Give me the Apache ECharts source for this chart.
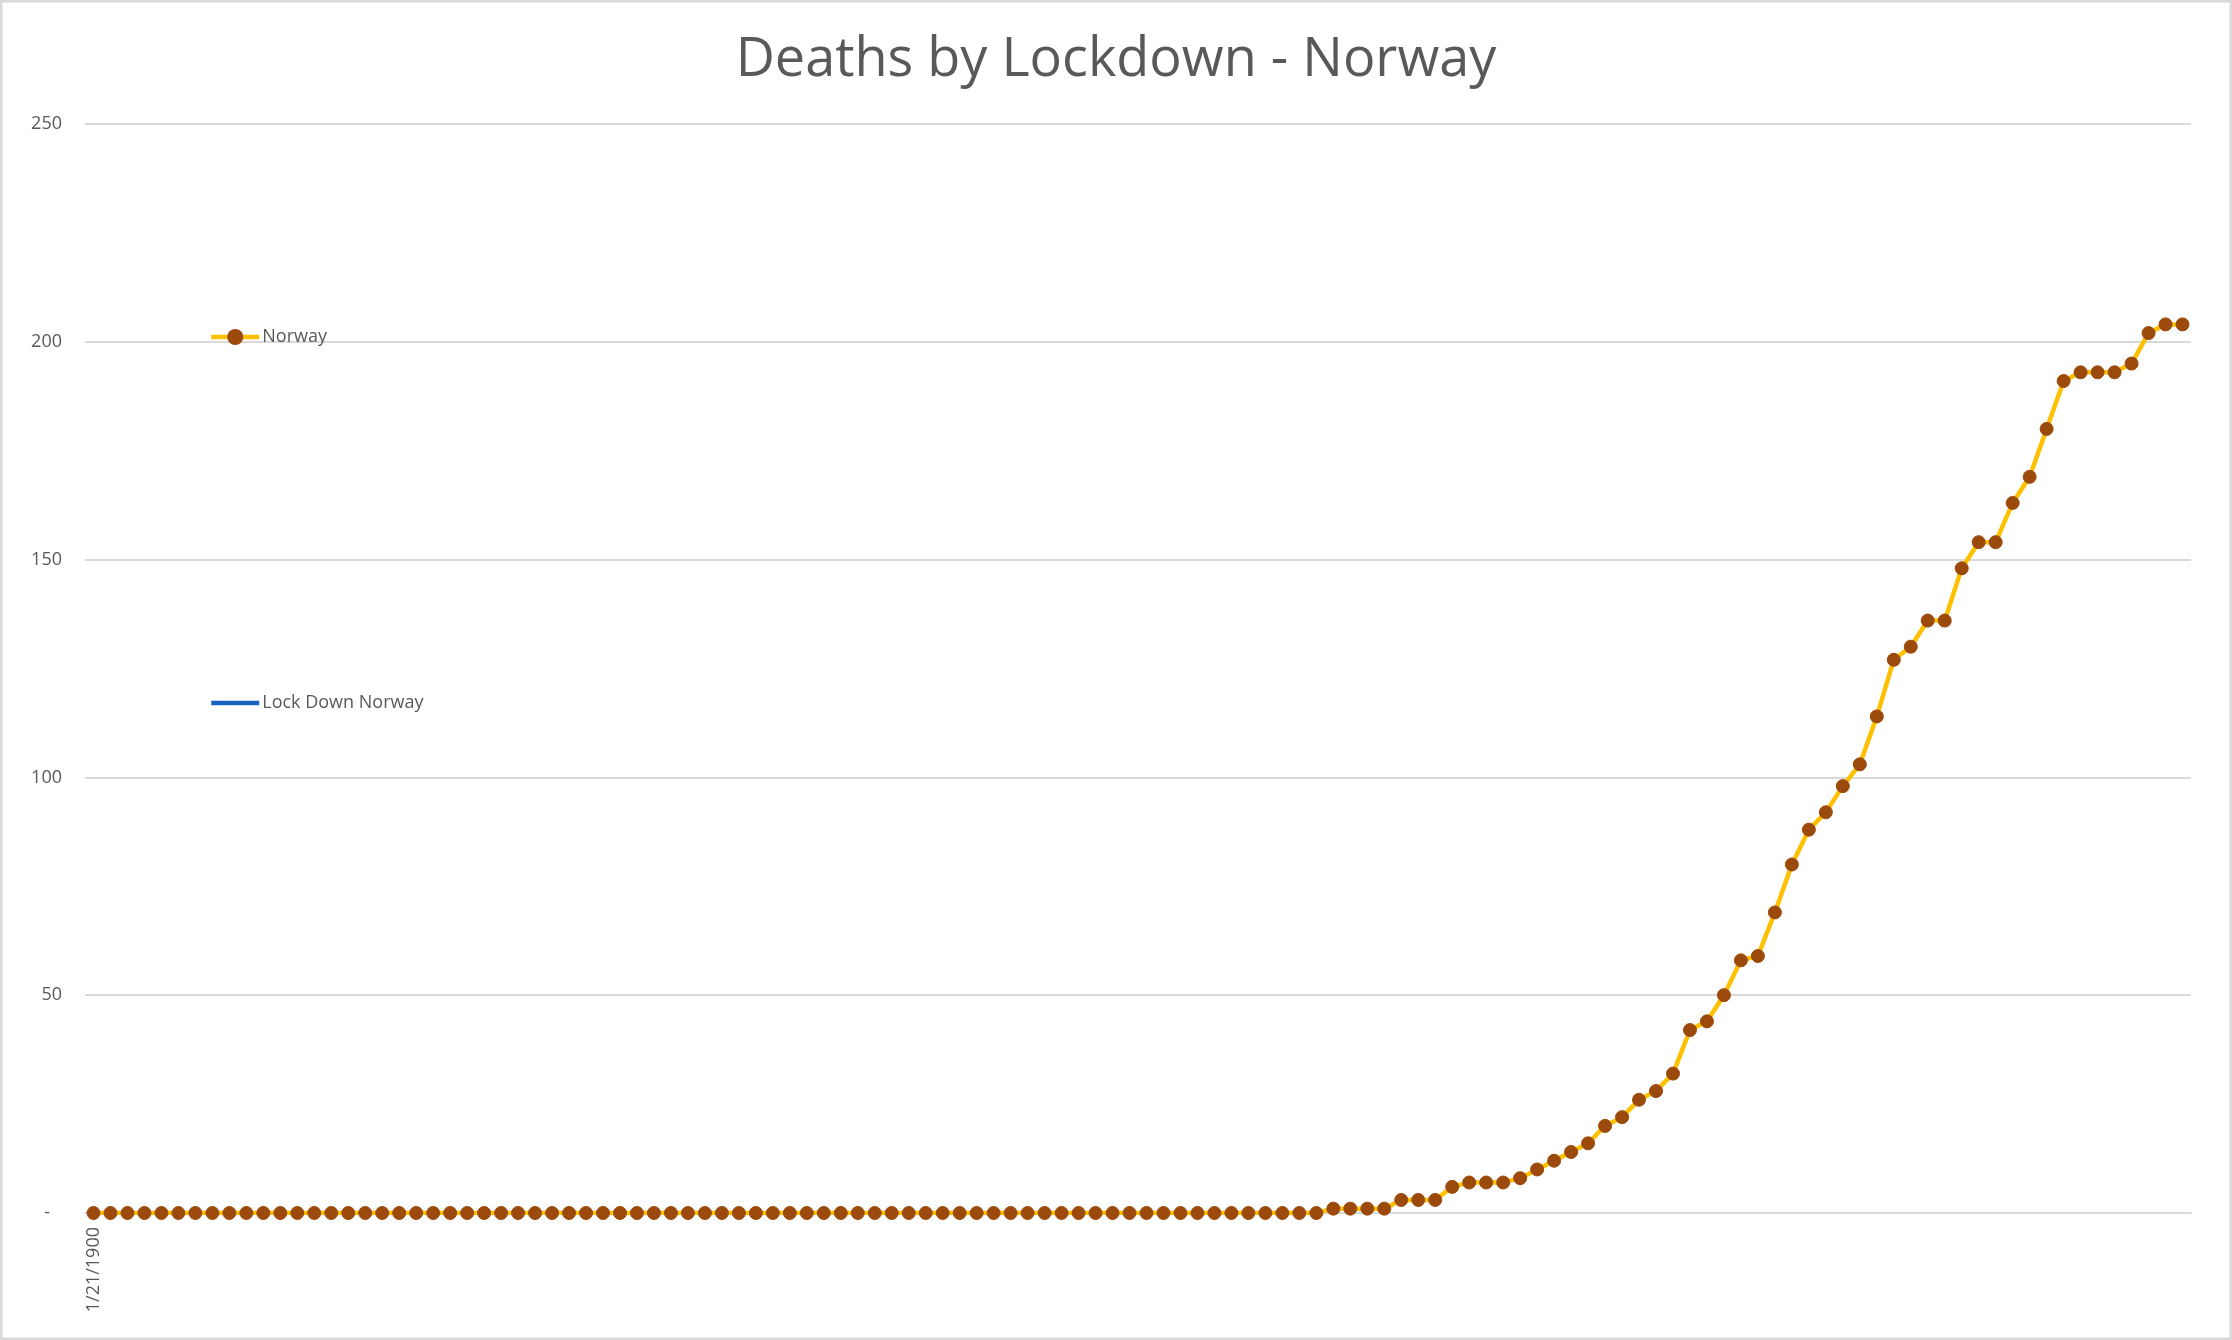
<!DOCTYPE html>
<html><head><meta charset="utf-8">
<script src="https://cdn.jsdelivr.net/npm/echarts@6/dist/echarts.min.js"></script>
<style>html,body{margin:0;padding:0;background:#fff}#c{width:2232px;height:1340px}</style>
</head><body><div id="c"></div>
<script>
const titleText = 'Deaths by Lockdown - Norway';
const seriesNames = ['Norway', 'Lock Down Norway'];
const firstCategory = [1, 21, 1900]; // month, day, year of the first category
const categoryCount = 124;
const norwayDeaths = [
  0,0,0,0,0,0,0,0,0,0, 0,0,0,0,0,0,0,0,0,0,
  0,0,0,0,0,0,0,0,0,0, 0,0,0,0,0,0,0,0,0,0,
  0,0,0,0,0,0,0,0,0,0, 0,0,0,0,0,0,0,0,0,0,
  0,0,0,0,0,0,0,0,0,0, 0,0,0,
  1,1,1,1,3,3,3,6,7,7,7,8,10,12,14,16,20,22,26,28,32,42,44,50,58,59,
  69,80,88,92,98,103,114,127,130,136,136,148,154,154,163,169,180,191,193,193,193,195,202,204,204
];
const lockDownNorway = [];
const yMin = 0, yMax = 250, yStep = 50;

const categories = [];
for (let i = 0; i < categoryCount; i++) {
  const d = new Date(Date.UTC(firstCategory[2], firstCategory[0] - 1, firstCategory[1] + i));
  categories.push((d.getUTCMonth() + 1) + '/' + d.getUTCDate() + '/' + d.getUTCFullYear());
}

const FONT = '"Open Sans", "Noto Sans", sans-serif';
const TXT = '#595959';
const YELLOW = '#FFC000', BROWN = '#9C4A0B', BLUE = '#1764BE';
const chart = echarts.init(document.getElementById('c'), null, {renderer: 'canvas'});
chart.setOption({
  animation: false,
  backgroundColor: '#ffffff',
  textStyle: {fontFamily: FONT},
  graphic: [{
    type: 'rect', silent: true, z: 100,
    shape: {x: 1, y: 1, width: 2230, height: 1338},
    style: {fill: 'none', stroke: '#d9d9d9', lineWidth: 3}
  }],
  title: {
    text: titleText, left: 'center', top: 23,
    textStyle: {fontFamily: FONT, fontSize: 54, fontWeight: 'normal', color: TXT, lineHeight: 66}
  },
  legend: [
    {data: [seriesNames[0]], left: 204, top: 321, itemWidth: 48, itemHeight: 20, itemGap: 4,
     lineStyle: {color: YELLOW, width: 4.5},
     itemStyle: {color: BROWN, borderWidth: 0},
     textStyle: {fontFamily: FONT, fontSize: 18, color: TXT, lineHeight: 22, padding: [0, 0, 0, -2]}},
    {data: [seriesNames[1]], left: 204, top: 687, itemWidth: 48, itemHeight: 14, itemGap: 4,
     lineStyle: {color: BLUE, width: 4.5},
     itemStyle: {opacity: 0},
     textStyle: {fontFamily: FONT, fontSize: 18, color: TXT, lineHeight: 22, padding: [0, 0, 0, -2]}}
  ],
  grid: {left: 85, right: 41, top: 124, bottom: 127},
  xAxis: {
    type: 'category', data: categories, boundaryGap: true,
    axisLine: {show: true, lineStyle: {color: '#d9d9d9', width: 2}},
    axisTick: {show: false},
    axisLabel: {
      rotate: 90, margin: 14, color: TXT, fontFamily: FONT, fontSize: 18,
      interval: function (idx) { return idx === 0; }
    }
  },
  yAxis: {
    type: 'value', min: yMin, max: yMax, interval: yStep,
    axisLine: {show: false}, axisTick: {show: false},
    splitLine: {lineStyle: {color: '#d9d9d9', width: 2}},
    axisLabel: {
      margin: 23, color: TXT, fontFamily: FONT, fontSize: 18,
      formatter: function (v) { return v === 0 ? '{z|-}' : String(v); },
      rich: {z: {color: TXT, fontFamily: FONT, fontSize: 18, padding: [0, 12, 0, 0]}}
    }
  },
  series: [
    {
      name: seriesNames[0], type: 'line', data: norwayDeaths,
      symbol: 'circle', symbolSize: 13, showSymbol: true, showAllSymbol: true,
      lineStyle: {color: YELLOW, width: 4.5},
      itemStyle: {color: BROWN, borderColor: BROWN, borderWidth: 1}
    },
    {
      name: seriesNames[1], type: 'line', data: lockDownNorway,
      symbol: 'none',
      lineStyle: {color: BLUE, width: 4.5},
      itemStyle: {color: BLUE}
    }
  ]
});
</script></body></html>
